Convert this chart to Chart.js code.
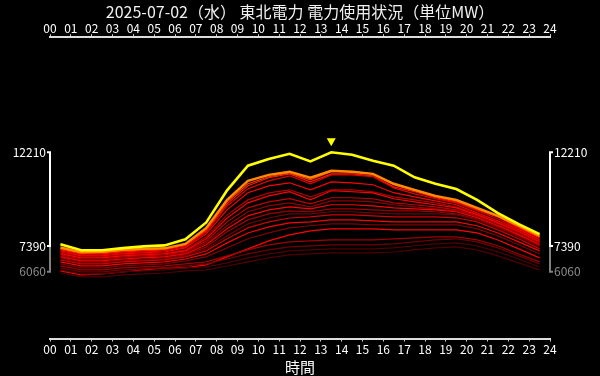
<!DOCTYPE html>
<html>
<head>
<meta charset="utf-8">
<script src="https://cdn.jsdelivr.net/npm/chart.js@4.4.1/dist/chart.umd.min.js"></script>
<style>
  html, body { margin: 0; background: #000; }
  #wrap { width: 600px; height: 376px; }
</style>
</head>
<body>
<div id="wrap"><canvas id="chart" width="600" height="376"></canvas></div>
<script>
// hour of each sample (half past the hour)
const hours = [0.5,1.5,2.5,3.5,4.5,5.5,6.5,7.5,8.5,9.5,10.5,11.5,12.5,13.5,14.5,15.5,16.5,17.5,18.5,19.5,20.5,21.5,22.5,23.5];
const hourLabels = ['00','01','02','03','04','05','06','07','08','09','10','11','12','13','14','15','16','17','18','19','20','21','22','23','24'];
const yMarks = [12210, 7390, 6060];

// today (MW)
const today = [7480,7170,7170,7280,7370,7420,7730,8600,10250,11520,11860,12130,11740,12210,12080,11770,11520,10920,10590,10320,9760,9080,8510,8000];
// past days (MW)
const past01 = [7310,7070,7090,7190,7240,7270,7500,8320,9760,10740,11050,11210,10900,11260,11210,11100,10590,10280,9970,9760,9350,8940,8430,7910];
const past02 = [7240,7030,7030,7140,7190,7240,7450,8220,9660,10590,10950,11150,10790,11210,11210,11100,10540,10230,9920,9710,9300,8890,8370,7860];
const past03 = [7190,6980,6980,7090,7140,7190,7400,8170,9560,10490,10900,11100,10690,11100,11100,11000,10430,10180,9870,9660,9250,8890,8320,7810];
const past04 = [7140,6930,6930,7030,7090,7140,7340,8110,9450,10330,10740,11000,10590,11050,11050,10950,10380,10070,9820,9610,9200,8790,8270,7750];
const past05 = [7080,6880,6880,6980,7030,7080,7290,8010,9250,10130,10480,10640,10280,10690,10640,10540,10130,9920,9710,9510,9090,8680,8220,7700];
const past06 = [7030,6830,6830,6930,6980,7030,7190,7860,8990,9760,10120,10280,9920,10280,10280,10180,9920,9760,9610,9400,9040,8630,8170,7650];
const past07 = [6980,6780,6780,6880,6930,6980,7140,7760,8830,9610,9970,10180,9760,10230,10180,10120,9820,9660,9510,9350,8990,8580,8120,7600];
const past08 = [6930,6720,6720,6830,6880,6930,7090,7650,8630,9350,9660,9820,9560,9870,9870,9820,9610,9510,9400,9250,8940,8530,8060,7550];
const past09 = [6880,6670,6670,6780,6830,6880,7030,7550,8430,9150,9450,9610,9400,9710,9710,9660,9510,9400,9300,9200,8890,8480,8010,7500];
const past10 = [6830,6620,6620,6720,6780,6830,6980,7450,8270,8940,9250,9400,9300,9510,9510,9450,9350,9300,9250,9150,8840,8430,7960,7450];
const past11 = [6780,6570,6570,6670,6720,6780,6930,7340,8120,8730,9040,9200,9150,9300,9300,9250,9200,9200,9150,9040,8790,8370,7910,7400];
const past12 = [6720,6520,6520,6620,6670,6720,6880,7240,7910,8530,8830,9040,9040,9150,9150,9090,9040,9040,9040,8990,8730,8320,7860,7340];
const past13 = [6670,6470,6470,6570,6620,6670,6830,7140,7760,8320,8630,8830,8890,8990,8990,8940,8890,8890,8890,8840,8630,8220,7760,7240];
const past14 = [6570,6370,6370,6470,6520,6570,6720,6980,7550,8060,8370,8580,8630,8730,8730,8680,8630,8630,8630,8630,8430,8060,7600,7140];
const past15 = [6470,6260,6260,6370,6420,6470,6620,6830,7290,7760,8060,8320,8430,8530,8530,8480,8480,8480,8480,8480,8270,7910,7450,6980];
const past16 = [6110,5900,5950,6050,6160,6260,6260,6420,6830,7240,7650,7960,8170,8270,8270,8270,8220,8220,8220,8220,8060,7700,7240,6780];
const past17 = [6370,6160,6160,6260,6310,6370,6470,6570,6880,7190,7450,7600,7650,7700,7700,7700,7760,7810,7860,7860,7700,7400,6980,6570];
const past18 = [6260,6060,6060,6160,6210,6260,6370,6470,6720,6980,7190,7340,7400,7450,7450,7450,7500,7600,7700,7760,7600,7290,6880,6470];
const past19 = [6160,5950,5950,6060,6110,6160,6260,6310,6520,6780,6980,7140,7190,7240,7240,7240,7290,7400,7500,7550,7400,7090,6720,6310];
const past20 = [6000,5800,5800,5900,5950,6000,6110,6160,6360,6570,6780,6930,6980,7030,7030,7030,7080,7190,7290,7340,7190,6880,6520,6160];

const pastSeries = [past01,past02,past03,past04,past05,past06,past07,past08,past09,past10,past11,past12,past13,past14,past15,past16,past17,past18,past19,past20];
const pastColors = ['#ff8a00','#ff3a00','#ff1a00','#e00000','#ff0000','#b00000','#ff0000','#c00000','#900000','#ff0000','#a00000','#700000','#d00000','#ff0000','#800000','#ff0000','#a00000','#700000','#500000','#500000'];

const FONT = "'Noto Sans CJK JP', 'Noto Sans', sans-serif";
const pts = arr => arr.map((v, i) => ({ x: hours[i], y: v }));

const datasets = [{
  label: 'today', data: pts(today), borderColor: '#ffff00', borderWidth: 2.6,
  pointRadius: 0, tension: 0, order: 0
}];
pastSeries.forEach((s, i) => {
  datasets.push({
    label: 'past' + (i + 1), data: pts(s), borderColor: pastColors[i],
    borderWidth: i === 0 ? 2.4 : 1.2, pointRadius: 0, tension: 0,
    order: i === 0 ? 1 : 100 - i  // bright ones above dark ones
  });
});

const bgPlugin = {
  id: 'bg',
  beforeDraw(c) {
    const ctx = c.ctx;
    ctx.save(); ctx.fillStyle = '#000'; ctx.fillRect(0, 0, c.width, c.height); ctx.restore();
  }
};

// range brackets on both y axes + peak marker
const markPlugin = {
  id: 'marks',
  afterDraw(c) {
    const ctx = c.ctx, ys = c.scales.y, area = c.chartArea;
    const hi = ys.getPixelForValue(yMarks[0]), mid = ys.getPixelForValue(yMarks[1]), lo = ys.getPixelForValue(yMarks[2]);
    ctx.save();
    [[area.left, -1], [area.right, 1]].forEach(([x, dir]) => {
      ctx.lineWidth = 2;
      ctx.strokeStyle = '#808080';
      ctx.beginPath();
      ctx.moveTo(x, mid); ctx.lineTo(x, lo); ctx.lineTo(x + dir * 3, lo);
      ctx.stroke();
      ctx.strokeStyle = '#ffffff';
      ctx.beginPath();
      ctx.moveTo(x + dir * 3, hi); ctx.lineTo(x, hi); ctx.lineTo(x, mid); ctx.lineTo(x + dir * 3, mid);
      ctx.stroke();
    });
    // peak triangle
    let k = 0;
    today.forEach((v, i) => { if (v > today[k]) k = i; });
    const px = c.scales.x.getPixelForValue(hours[k]), py = ys.getPixelForValue(today[k]);
    ctx.fillStyle = '#ffff00';
    ctx.beginPath();
    ctx.moveTo(px - 4.5, py - 14); ctx.lineTo(px + 4.5, py - 14); ctx.lineTo(px, py - 6);
    ctx.closePath(); ctx.fill();
    ctx.restore();
  }
};

const xAxis = (pos) => ({
  type: 'linear', position: pos, min: 0, max: 24,
  afterBuildTicks: s => { s.ticks = hourLabels.map((_, i) => ({ value: i })); },
  ticks: {
    color: '#ffffff', font: { family: FONT, size: 12 }, autoSkip: false, maxRotation: 0,
    padding: pos === 'top' ? -1 : 1,
    callback: v => hourLabels[v]
  },
  grid: { display: true, drawOnChartArea: false, color: '#cccccc', tickLength: 3, lineWidth: 1 },
  border: { display: true, color: '#dddddd', width: 2 },
  title: pos === 'bottom'
    ? { display: true, text: '時間', color: '#ffffff', font: { family: FONT, size: 15 }, padding: { top: 0, bottom: 0 } }
    : { display: false },
  afterFit: s => { s.height = pos === 'top' ? 15.5 : 37.5; }
});

const yAxis = (pos) => ({
  type: 'linear', position: pos, min: 2630, max: 18130,
  afterBuildTicks: s => { s.ticks = yMarks.map(v => ({ value: v })); },
  ticks: {
    color: ctx => ctx.tick && ctx.tick.value === yMarks[2] ? '#8c8c8c' : '#ffffff',
    font: { family: FONT, size: 12 }, padding: 4,
    callback: v => String(v)
  },
  grid: { display: false, drawTicks: false },
  border: { display: false },
  afterFit: s => { s.width = 50; }
});

new Chart(document.getElementById('chart'), {
  type: 'line',
  data: { datasets },
  options: {
    responsive: false,
    animation: false,
    layout: { padding: 0 },
    plugins: {
      legend: { display: false },
      tooltip: { enabled: false },
      title: {
        display: true, text: '2025-07-02（水） 東北電力 電力使用状況（単位MW）',
        color: '#f0f0f0', font: { family: FONT, size: 16, weight: 'normal' },
        padding: { top: 2.5, bottom: 0 }
      }
    },
    scales: {
      x: xAxis('bottom'),
      x2: xAxis('top'),
      y: yAxis('left'),
      y2: yAxis('right')
    }
  },
  plugins: [bgPlugin, markPlugin]
});
</script>
</body>
</html>
